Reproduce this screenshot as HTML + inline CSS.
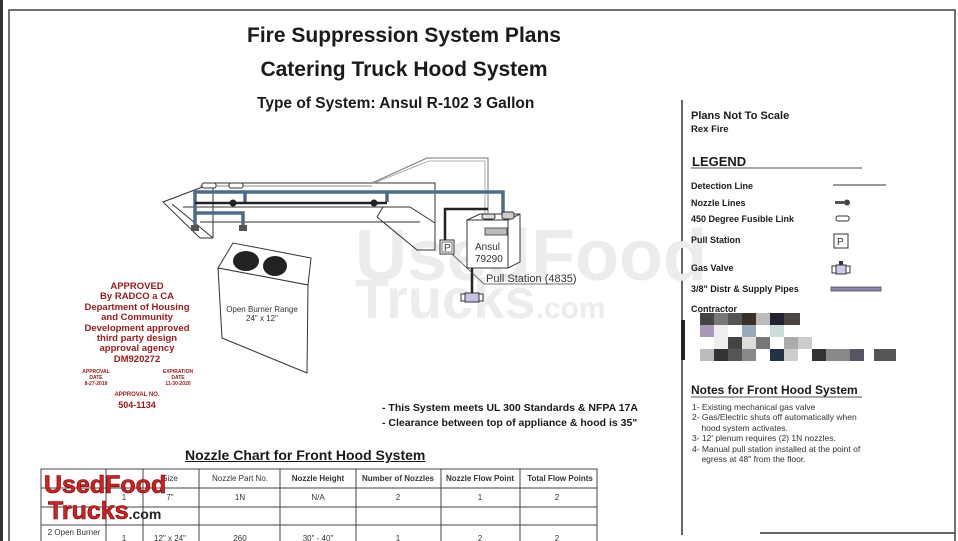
<!DOCTYPE html>
<html><head><meta charset="utf-8"><style>
html,body{margin:0;padding:0;background:#fff;}
body{width:958px;height:541px;position:relative;overflow:hidden;font-family:"Liberation Sans",Arial,sans-serif;color:#1a1a1a;}
.a{position:absolute;white-space:nowrap;}
.b{font-weight:bold;}
</style></head><body>
<svg width="958" height="541" style="position:absolute;left:0;top:0">
<rect x="0" y="0" width="3" height="541" fill="#333"/>
<polyline points="9,541 9,10 955,10 955,541" fill="none" stroke="#444" stroke-width="1.5"/>
<line x1="682" y1="100" x2="682" y2="535" stroke="#333" stroke-width="1.5"/>
<line x1="760" y1="533" x2="955" y2="533" stroke="#333" stroke-width="1.5"/>
<!-- watermark -->
<text x="355" y="280" font-family="Liberation Sans" font-weight="bold" font-size="72" fill="#ececec">UsedFood</text>
<text x="355" y="318" font-family="Liberation Sans" font-weight="bold" font-size="56" fill="#ececec">Trucks<tspan font-size="30">.com</tspan></text>
<!-- hood -->
<g fill="none" stroke="#333" stroke-width="1">
<polyline points="200,238 163,202 213,183 435,183 435,250 417,250 377,217"/>
<polyline points="213,238 172,204"/>
<line x1="200" y1="238" x2="213" y2="238"/>
<polyline points="183,207 410,207 435,223"/>
<polyline points="200,222 420,222"/>
<line x1="213" y1="183" x2="213" y2="238"/>
<polyline points="377,217 383,207"/>
<polyline points="372,183 427,158 488,158 488,215" stroke="#777"/>
<polyline points="374,183 429,161 485,161 485,215" stroke="#999" stroke-width="0.8"/>
</g>
<!-- detection gray line -->
<line x1="200" y1="186" x2="372" y2="186" stroke="#888" stroke-width="1"/>
<rect x="202" y="183" width="14" height="5" rx="2" fill="#fff" stroke="#333"/>
<rect x="229" y="183" width="14" height="5" rx="2" fill="#fff" stroke="#333"/>
<!-- pipes -->
<g fill="none" stroke="#4f6b86" stroke-width="3.5">
<polyline points="195,226 195,192 503,192 503,215"/>
<polyline points="243,226 243,213 195,213"/>
<polyline points="245,192 245,202"/>
<polyline points="387,202 387,192"/>
</g>
<polyline points="195,203 387,203" fill="none" stroke="#222" stroke-width="2.5"/>
<polyline points="445,240 445,209 488,209" fill="none" stroke="#222" stroke-width="2.5"/>
<circle cx="233" cy="203" r="3.5" fill="#222"/><circle cx="374" cy="203" r="3.5" fill="#222"/>
<rect x="191" y="225" width="8" height="6" fill="#555"/><rect x="239" y="225" width="8" height="6" fill="#555"/>
<!-- Ansul box -->
<polygon points="467,220 480,214 520,214 520,262 508,268 467,268" fill="#fff" stroke="#333"/>
<polyline points="467,220 508,220 520,214 M508,220 508,268" fill="none" stroke="#333"/>
<line x1="508" y1="220" x2="508" y2="268" stroke="#333"/>
<rect x="485" y="228" width="22" height="7" fill="#bbb" stroke="#555"/>
<rect x="482" y="214" width="13" height="5" rx="2" fill="#ddd" stroke="#333"/>
<rect x="502" y="212" width="12" height="7" rx="2" fill="#ccc" stroke="#333"/>
<text x="475" y="250" font-size="10" fill="#333">Ansul</text>
<text x="475" y="262" font-size="10" fill="#333">79290</text>
<line x1="472" y1="268" x2="472" y2="293" stroke="#222" stroke-width="2.5"/>
<rect x="465" y="293" width="14" height="9" fill="#c8c0e0" stroke="#333"/>
<rect x="461" y="294" width="4" height="7" fill="#fff" stroke="#333"/><rect x="479" y="294" width="4" height="7" fill="#fff" stroke="#333"/>
<!-- P -->
<rect x="440" y="240" width="14" height="14" fill="#fff" stroke="#333"/>
<rect x="442" y="242" width="10" height="10" fill="none" stroke="#333" stroke-width="0.7"/>
<text x="444" y="251" font-size="10" fill="#333">P</text>
<polyline points="452,254 484,284 574,284" fill="none" stroke="#444" stroke-width="0.8"/>
<text x="486" y="282" font-size="11" fill="#333">Pull Station (4835)</text>
<!-- range -->
<polygon points="218,268 233,243 311,258 308,285" fill="#fff" stroke="#333"/>
<polygon points="218,268 308,285 307,373 222,338" fill="#fff" stroke="#333"/>
<ellipse cx="246" cy="261" rx="13" ry="10" fill="#222"/>
<ellipse cx="275" cy="266" rx="12" ry="10" fill="#222"/>
<text x="262" y="312" font-size="8" text-anchor="middle" fill="#333">Open Burner Range</text>
<text x="262" y="321" font-size="8" text-anchor="middle" fill="#333">24" x 12"</text>
<!-- legend icons -->
<line x1="833" y1="185" x2="886" y2="185" stroke="#333"/>
<rect x="835" y="201" width="9" height="3" fill="#555"/><circle cx="847" cy="202.5" r="3" fill="#444"/>
<rect x="836" y="216" width="13" height="5" rx="2" fill="#fff" stroke="#333"/>
<rect x="834" y="234" width="14" height="14" fill="#fff" stroke="#333"/>
<text x="837" y="245" font-size="10" fill="#333">P</text>
<rect x="836" y="265" width="10" height="9" fill="#d0c8e8" stroke="#333"/><rect x="832" y="266" width="4" height="7" fill="#fff" stroke="#333"/><rect x="846" y="266" width="4" height="7" fill="#fff" stroke="#333"/><rect x="839" y="261" width="4" height="4" fill="#333"/>
<rect x="831" y="287" width="50" height="4" fill="#8a88b0" stroke="#444" stroke-width="0.7"/>
<line x1="691" y1="168" x2="862" y2="168" stroke="#555"/>
<line x1="691" y1="397" x2="862" y2="397" stroke="#555"/>
<!-- pixelated -->
<g>
<rect x="700" y="313" width="14" height="12" fill="#444"/><rect x="714" y="313" width="14" height="12" fill="#777"/><rect x="728" y="313" width="14" height="12" fill="#555"/><rect x="742" y="313" width="14" height="12" fill="#3a3028"/><rect x="756" y="313" width="14" height="12" fill="#bbb"/><rect x="770" y="313" width="14" height="12" fill="#223"/><rect x="784" y="313" width="14" height="12" fill="#bbb"/><rect x="784" y="313" width="16" height="12" fill="#4a4540"/>
<rect x="700" y="325" width="14" height="12" fill="#a898b8"/><rect x="714" y="325" width="14" height="12" fill="#eee"/><rect x="742" y="325" width="14" height="12" fill="#9ab"/><rect x="770" y="325" width="14" height="12" fill="#cdd"/>
<rect x="714" y="337" width="14" height="12" fill="#eee"/><rect x="728" y="337" width="14" height="12" fill="#444"/><rect x="742" y="337" width="14" height="12" fill="#ddd"/><rect x="756" y="337" width="14" height="12" fill="#777"/><rect x="784" y="337" width="14" height="12" fill="#aaa"/><rect x="798" y="337" width="14" height="12" fill="#ccc"/>
<rect x="700" y="349" width="14" height="12" fill="#bbb"/><rect x="714" y="349" width="14" height="12" fill="#333"/><rect x="728" y="349" width="14" height="12" fill="#555"/><rect x="742" y="349" width="14" height="12" fill="#888"/><rect x="770" y="349" width="14" height="12" fill="#234"/><rect x="784" y="349" width="14" height="12" fill="#ccc"/><rect x="812" y="349" width="14" height="12" fill="#333"/><rect x="826" y="349" width="24" height="12" fill="#888"/><rect x="850" y="349" width="14" height="12" fill="#556"/><rect x="874" y="349" width="22" height="12" fill="#555"/>
<rect x="681" y="320" width="4" height="40" fill="#222"/>
</g>
<!-- table -->
<g stroke="#444" stroke-width="1" fill="none">
<rect x="41" y="469" width="556" height="80"/>
<line x1="41" y1="488" x2="597" y2="488"/><line x1="41" y1="507" x2="597" y2="507"/><line x1="41" y1="525" x2="597" y2="525"/>
<line x1="106" y1="469" x2="106" y2="541"/><line x1="143" y1="469" x2="143" y2="541"/><line x1="199" y1="469" x2="199" y2="541"/><line x1="280" y1="469" x2="280" y2="541"/><line x1="356" y1="469" x2="356" y2="541"/><line x1="441" y1="469" x2="441" y2="541"/><line x1="520" y1="469" x2="520" y2="541"/>
</g>
<g font-size="8" fill="#333" text-anchor="middle">
<text x="170" y="481">Size</text><text x="240" y="481">Nozzle Part No.</text><text x="318" y="481" font-weight="bold">Nozzle Height</text><text x="398" y="481" font-weight="bold">Number of Nozzles</text><text x="480" y="481" font-weight="bold">Nozzle Flow Point</text><text x="560" y="481" font-weight="bold">Total Flow Points</text>
<text x="124" y="500">1</text><text x="170" y="500">7"</text><text x="240" y="500">1N</text><text x="318" y="500">N/A</text><text x="398" y="500">2</text><text x="480" y="500">1</text><text x="557" y="500">2</text>
<text x="124" y="541">1</text><text x="170" y="541">12" x 24"</text><text x="240" y="541">260</text><text x="318" y="541">30" - 40"</text><text x="398" y="541">1</text><text x="480" y="541">2</text><text x="557" y="541">2</text>
<text x="74" y="535">2 Open Burner</text>
</g>
<text x="44" y="493" font-size="25" font-weight="bold" fill="#d42020" stroke="#600" stroke-width="0.6">UsedFood</text>
<text x="48" y="519" font-size="25" font-weight="bold" fill="#d42020" stroke="#600" stroke-width="0.6">Trucks<tspan font-size="14" fill="#222" stroke="none">.com</tspan></text>
</svg>
<div class="a b" style="left:0;width:808px;text-align:center;top:24px;font-size:21px">Fire Suppression System Plans</div>
<div class="a b" style="left:0;width:808px;text-align:center;top:58px;font-size:21px">Catering Truck Hood System</div>
<div class="a b" style="left:257px;top:95px;font-size:15.5px">Type of System: Ansul R-102 3 Gallon</div>
<div class="a b" style="left:185px;top:447px;font-size:14px;text-decoration:underline">Nozzle Chart for Front Hood System</div>
<div class="a b" style="left:382px;top:402px;font-size:10.5px">- This System meets UL 300 Standards &amp; NFPA 17A</div>
<div class="a b" style="left:382px;top:417px;font-size:10.5px">- Clearance between top of appliance &amp; hood is 35"</div>
<div class="a b" style="left:62px;width:150px;text-align:center;top:282px;font-size:9.5px;line-height:10.4px;color:#9a1a1a">APPROVED<br>By RADCO a CA<br>Department of Housing<br>and Community<br>Development approved<br>third party design<br>approval agency<br>DM920272</div>
<div class="a b" style="left:76px;width:40px;text-align:center;top:369px;font-size:5px;line-height:6px;color:#9a1a1a">APPROVAL<br>DATE<br>8-27-2019</div>
<div class="a b" style="left:158px;width:40px;text-align:center;top:369px;font-size:5px;line-height:6px;color:#9a1a1a">EXPIRATION<br>DATE<br>11-30-2020</div>
<div class="a b" style="left:97px;width:80px;text-align:center;top:392px;font-size:6px;color:#9a1a1a">APPROVAL NO.</div>
<div class="a b" style="left:97px;width:80px;text-align:center;top:400px;font-size:9px;color:#9a1a1a">504-1134</div>
<div class="a b" style="left:691px;top:110px;font-size:11px">Plans Not To Scale</div>
<div class="a b" style="left:691px;top:124px;font-size:9.5px">Rex Fire</div>
<div class="a b" style="left:692px;top:154px;font-size:13px">LEGEND</div>
<div class="a b" style="left:691px;top:181px;font-size:9px">Detection Line</div>
<div class="a b" style="left:691px;top:198px;font-size:9px">Nozzle Lines</div>
<div class="a b" style="left:691px;top:214px;font-size:9px">450 Degree Fusible Link</div>
<div class="a b" style="left:691px;top:235px;font-size:9px">Pull Station</div>
<div class="a b" style="left:691px;top:263px;font-size:9px">Gas Valve</div>
<div class="a b" style="left:691px;top:284px;font-size:9px">3/8" Distr &amp; Supply Pipes</div>
<div class="a b" style="left:691px;top:304px;font-size:9px">Contractor</div>
<div class="a b" style="left:691px;top:383px;font-size:12px">Notes for Front Hood System</div>
<div class="a" style="left:692px;top:402px;font-size:8.5px;line-height:10.4px;color:#333">1- Existing mechanical gas valve<br>2- Gas/Electric shuts off automatically when<br>&nbsp;&nbsp;&nbsp;&nbsp;hood system activates.<br>3- 12' plenum requires (2) 1N nozzles.<br>4- Manual pull station installed at the point of<br>&nbsp;&nbsp;&nbsp;&nbsp;egress at 48" from the floor.</div>
</body></html>
